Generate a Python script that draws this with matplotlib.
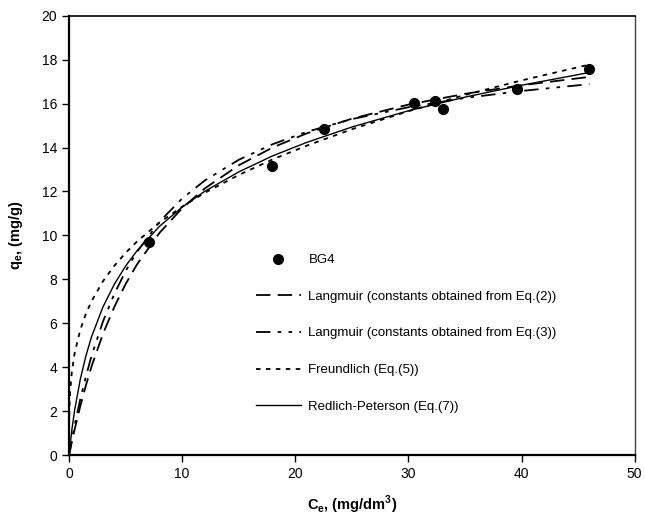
import matplotlib
matplotlib.use('Agg')
import matplotlib.pyplot as plt

plt.rcParams['font.family'] = ['Liberation Sans', 'DejaVu Sans']
plt.rcParams['mathtext.fontset'] = 'custom'
plt.rcParams['mathtext.rm'] = 'Liberation Sans'
plt.rcParams['mathtext.bf'] = 'Liberation Sans:bold'

# measured points BG4
ce_bg4 = [7.06, 17.98, 22.5, 30.5, 32.36, 33.04, 39.57, 45.96]
qe_bg4 = [9.70, 13.14, 14.85, 16.02, 16.12, 15.74, 16.67, 17.56]

# model curves
ce_curve = [0, 0.25, 0.5, 1, 1.5, 2, 3, 4, 5, 6, 8, 10, 12, 15, 18, 21, 25, 30, 35, 40, 46]
q_lang2 = [0, 0.62, 1.19, 2.25, 3.20, 4.06, 5.53, 6.75, 7.79, 8.68, 10.12, 11.24, 12.14,
           13.19, 14.00, 14.64, 15.31, 15.95, 16.44, 16.83, 17.21]
q_lang3 = [0, 0.71, 1.38, 2.57, 3.61, 4.54, 6.09, 7.34, 8.38, 9.25, 10.63, 11.68, 12.50,
           13.44, 14.15, 14.71, 15.29, 15.83, 16.25, 16.57, 16.88]
q_rp = [0, 1.16, 2.07, 3.47, 4.54, 5.41, 6.75, 7.78, 8.61, 9.30, 10.42, 11.29, 12.01,
        12.89, 13.62, 14.23, 14.93, 15.67, 16.29, 16.83, 17.41]

ce_fr = [0, 0.01, 0.05, 0.1, 0.25, 0.5, 1, 1.5, 2, 3, 4, 5, 6, 8, 10, 12, 15, 18, 21, 25, 30, 35, 40, 46]
q_fr = [0, 1.47, 2.36, 2.89, 3.80, 4.66, 5.72, 6.45, 7.02, 7.92, 8.62, 9.21, 9.72, 10.59,
        11.31, 11.94, 12.75, 13.46, 14.08, 14.83, 15.65, 16.39, 17.05, 17.77]

labels = ['BG4',
          'Langmuir (constants obtained from Eq.(2))',
          'Langmuir (constants obtained from Eq.(3))',
          'Freundlich (Eq.(5))',
          'Redlich-Peterson (Eq.(7))']

fig = plt.figure(figsize=(6.45, 5.17), dpi=100)
ax = fig.add_axes([0.107, 0.119, 0.877, 0.851])

ax.plot(ce_bg4, qe_bg4, 'o', color='black', markersize=7, label=labels[0], zorder=5)
ax.plot(ce_curve, q_lang2, color='black', lw=1.3, dashes=(8, 4), label=labels[1])
ax.plot(ce_curve, q_lang3, color='black', lw=1.3, dashes=(8, 4, 2, 4, 2, 4), label=labels[2])
ax.plot(ce_fr, q_fr, color='black', lw=1.3, dashes=(2.5, 3), label=labels[3])
ax.plot(ce_curve, q_rp, color='black', lw=1.0, label=labels[4])

ax.set_xlim(0, 50)
ax.set_ylim(0, 20)
ax.set_xticks(range(0, 51, 10))
ax.set_yticks(range(0, 21, 2))
ax.tick_params(direction='out', length=5, width=1, labelsize=10)
ax.tick_params(top=False, right=False)
ax.spines['left'].set_linewidth(1.6)
ax.spines['bottom'].set_linewidth(1.6)
ax.spines['top'].set_linewidth(1.2)
ax.spines['right'].set_linewidth(1.0)
ax.spines['right'].set_color('#444444')

ax.set_xlabel(r'C$_{\mathbf{e}}$, (mg/dm$^{\mathbf{3}}$)', fontsize=10.5, fontweight='bold', labelpad=9)
ax.set_ylabel(r'q$_{\mathbf{e}}$, (mg/g)', fontsize=10.5, fontweight='bold', labelpad=12)

ax.legend(loc='upper left', bbox_to_anchor=(0.33, 0.458), frameon=False, fontsize=9.5,
          handlelength=3.4, handletextpad=0.6, labelspacing=1.85, borderpad=0, borderaxespad=0)

fig.savefig('out.png', dpi=100)
